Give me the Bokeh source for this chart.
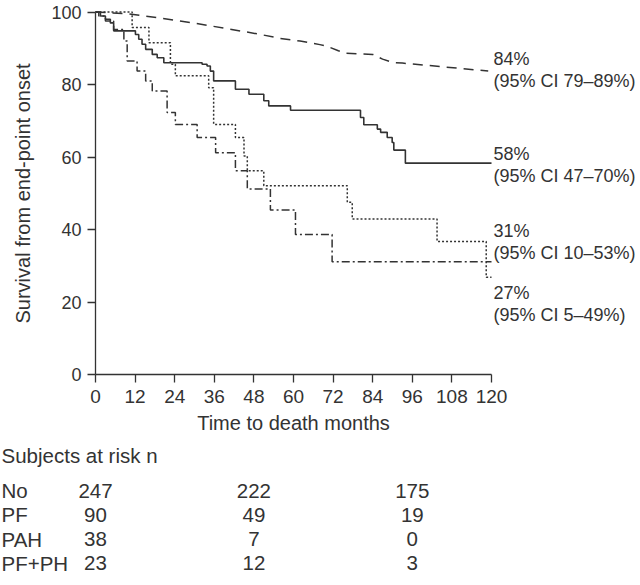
from bokeh.plotting import figure
from bokeh.models import Range1d, FixedTicker, ColumnDataSource, LinearAxis
from bokeh.embed import file_html
from bokeh.resources import INLINE
from bokeh.core.properties import value

# ---------------- data ----------------
no_time = [0, 10, 20, 30, 40, 50, 56, 62, 68, 70, 73.6, 76, 84, 87, 90, 93, 105, 119]
no_surv = [100, 99.5, 98.3, 96.9, 95.4, 93.8, 92.7, 92.0, 91.0, 90.6, 89.3, 88.6, 88.3, 87.0, 86.1, 85.9, 84.9, 83.7]

pf_time = [0, 1.5, 3, 4.5, 5.5, 12.1, 13.1, 14.1, 15.2, 17.2, 18.7, 20.7, 32.3, 33.8,
           34.8, 35.8, 42.4, 46.5, 51, 52.5, 59.1, 80.3, 81.3, 85.4, 86.4, 88.4, 89.9,
           90.4, 93.9, 120]
pf_surv = [100, 98.9, 98.0, 97.0, 94.8, 93.8, 92.5, 91.1, 89.7, 88.3, 87.4, 86.0, 85.6, 85.1,
           83.7, 81.0, 78.7, 77.3, 75.5, 74.1, 72.9, 70.9, 68.9, 67.7, 66.8, 65.4, 64.0,
           61.9, 58.3, 58.3]

pah_time = [0, 11.1, 16.2, 22.7, 24.2, 34.3, 35.8, 42.4, 45, 46, 51, 76.3, 77.8, 103.5, 118.4, 120]
pah_surv = [100, 95.7, 91.5, 85.6, 82.4, 79.1, 69.0, 65.4, 60.3, 56.2, 52.1, 47.5, 42.9, 36.7, 26.8, 26.8]

pfph_time = [0, 1, 3, 5.5, 8.6, 9.6, 12.6, 15.2, 17.2, 21.7, 24.2, 30.8, 36.4, 42.4, 46, 53, 60.6, 71.7, 120]
pfph_surv = [100, 98.9, 97.5, 95.2, 92.0, 86.5, 83.7, 81.0, 78.2, 72.3, 69.0, 65.4, 61.2, 56.2, 51.2, 45.4, 38.6, 31.1, 31.1]

x_ticks = [0, 12, 24, 36, 48, 60, 72, 84, 96, 108, 120]
y_ticks = [0, 20, 40, 60, 80, 100]

end_pct = ["84%", "58%", "31%", "27%"]
end_ci = ["(95% CI 79\u201389%)", "(95% CI 47\u201370%)", "(95% CI 10\u201353%)", "(95% CI 5\u201349%)"]

risk_title = "Subjects at risk n"
risk_groups = ["No", "PF", "PAH", "PF+PH"]
risk_times = [0, 48, 96]
risk_no = [247, 222, 175]
risk_pf = [90, 49, 19]
risk_pah = [38, 7, 0]
risk_pfph = [23, 12, 3]

# ---------------- styling / layout ----------------
FONT = "Liberation Sans"
TXT = "#333333"
LINE = "#333333"
W, H = 640, 585
XMAX, YMAX = 120.0, 100.0
# pixel placement of the plotting area inside the canvas
AX_LEFT, AX_RIGHT = 95, 491      # x of t=0 and t=120
AX_TOP, AX_BOTTOM = 11.5, 374    # y of S=100 and S=0
PX_X = (AX_RIGHT - AX_LEFT) / XMAX
PX_Y = (AX_BOTTOM - AX_TOP) / YMAX

x_lo = -AX_LEFT / PX_X
x_hi = XMAX + (W - AX_RIGHT) / PX_X
y_hi = YMAX + AX_TOP / PX_Y
y_lo = -(H - AX_BOTTOM) / PX_Y

p = figure(width=W, height=H, x_range=Range1d(x_lo, x_hi), y_range=Range1d(y_lo, y_hi),
           output_backend="svg", toolbar_location=None,
           x_axis_location=None, y_axis_location=None,
           min_border_left=0, min_border_right=0, min_border_top=0, min_border_bottom=0)
p.grid.visible = False
p.outline_line_color = None
p.background_fill_color = "white"
p.border_fill_color = "white"

xaxis = LinearAxis(fixed_location=0, bounds=(0, XMAX), ticker=FixedTicker(ticks=x_ticks),
                   axis_label="Time to death months")
yaxis = LinearAxis(fixed_location=0, bounds=(0, YMAX), ticker=FixedTicker(ticks=y_ticks),
                   axis_label="Survival from end-point onset")
for ax in (xaxis, yaxis):
    ax.minor_tick_line_color = None
    ax.major_tick_in = 0
    ax.major_tick_out = 8
    ax.axis_line_color = LINE
    ax.axis_line_width = 1.3
    ax.major_tick_line_color = LINE
    ax.major_tick_line_width = 1.3
    ax.major_label_text_font = FONT
    ax.major_label_text_color = TXT
    ax.axis_label_text_font = FONT
    ax.axis_label_text_font_size = "20px"
    ax.axis_label_text_font_style = "normal"
    ax.axis_label_text_color = TXT
xaxis.major_label_text_font_size = "19px"
yaxis.major_label_text_font_size = "18px"
xaxis.major_label_standoff = 7
xaxis.axis_label_standoff = 6
yaxis.major_label_standoff = 6
yaxis.axis_label_standoff = 14
p.add_layout(xaxis, "below")
p.add_layout(yaxis, "left")

# curves
p.line(no_time, no_surv, line_color=LINE, line_width=1.5, line_dash="10 7")
p.step(pf_time, pf_surv, mode="after", line_color=LINE, line_width=1.6)
p.step(pah_time, pah_surv, mode="after", line_color=LINE, line_width=1.5, line_dash="2 2")
p.step(pfph_time, pfph_surv, mode="after", line_color=LINE, line_width=1.5, line_dash="8 3 2 3")

# end-of-curve labels
label_x = 120.6
pct_y = [87.0, 60.9, 39.7, 22.6]
ci_y = [81.1, 54.8, 33.5, 16.5]
lab_src = ColumnDataSource(dict(x=[label_x] * 8, y=pct_y + ci_y, text=end_pct + end_ci))
p.text(x="x", y="y", text="text", source=lab_src, text_font=value(FONT), text_font_size="18px",
       text_color=TXT, text_align="left", text_baseline="middle")

# ---------------- risk table (below the axis) ----------------
TITLE_PX = 81     # distance below the x axis line
ROW0_PX = 116
ROW_STEP_PX = 24.3
title_y = -TITLE_PX / PX_Y

risk_rows = [risk_no, risk_pf, risk_pah, risk_pfph]
xs, ys, txts = [], [], []
for r, counts in enumerate(risk_rows):
    yy = -(ROW0_PX + r * ROW_STEP_PX) / PX_Y
    for tt, n in zip(risk_times, counts):
        xs.append(tt)
        ys.append(yy)
        txts.append(str(n))
num_src = ColumnDataSource(dict(x=xs, y=ys, text=txts))
p.text(x="x", y="y", text="text", source=num_src, text_font=value(FONT), text_font_size="20.5px",
       text_color=TXT, text_align="center", text_baseline="middle")

name_src = ColumnDataSource(dict(
    x=[x_lo] * len(risk_groups),
    y=[-(ROW0_PX + r * ROW_STEP_PX) / PX_Y for r in range(len(risk_groups))],
    text=risk_groups))
p.text(x="x", y="y", text="text", source=name_src, text_font=value(FONT), text_font_size="20.5px",
       text_color=TXT, text_align="left", text_baseline="middle", x_offset=1)

p.text(x=[x_lo], y=[title_y], text=[risk_title], text_font=value(FONT), text_font_size="20.5px",
       text_color=TXT, text_align="left", text_baseline="middle", x_offset=1)

open("out.html", "w").write(file_html(p, INLINE))
